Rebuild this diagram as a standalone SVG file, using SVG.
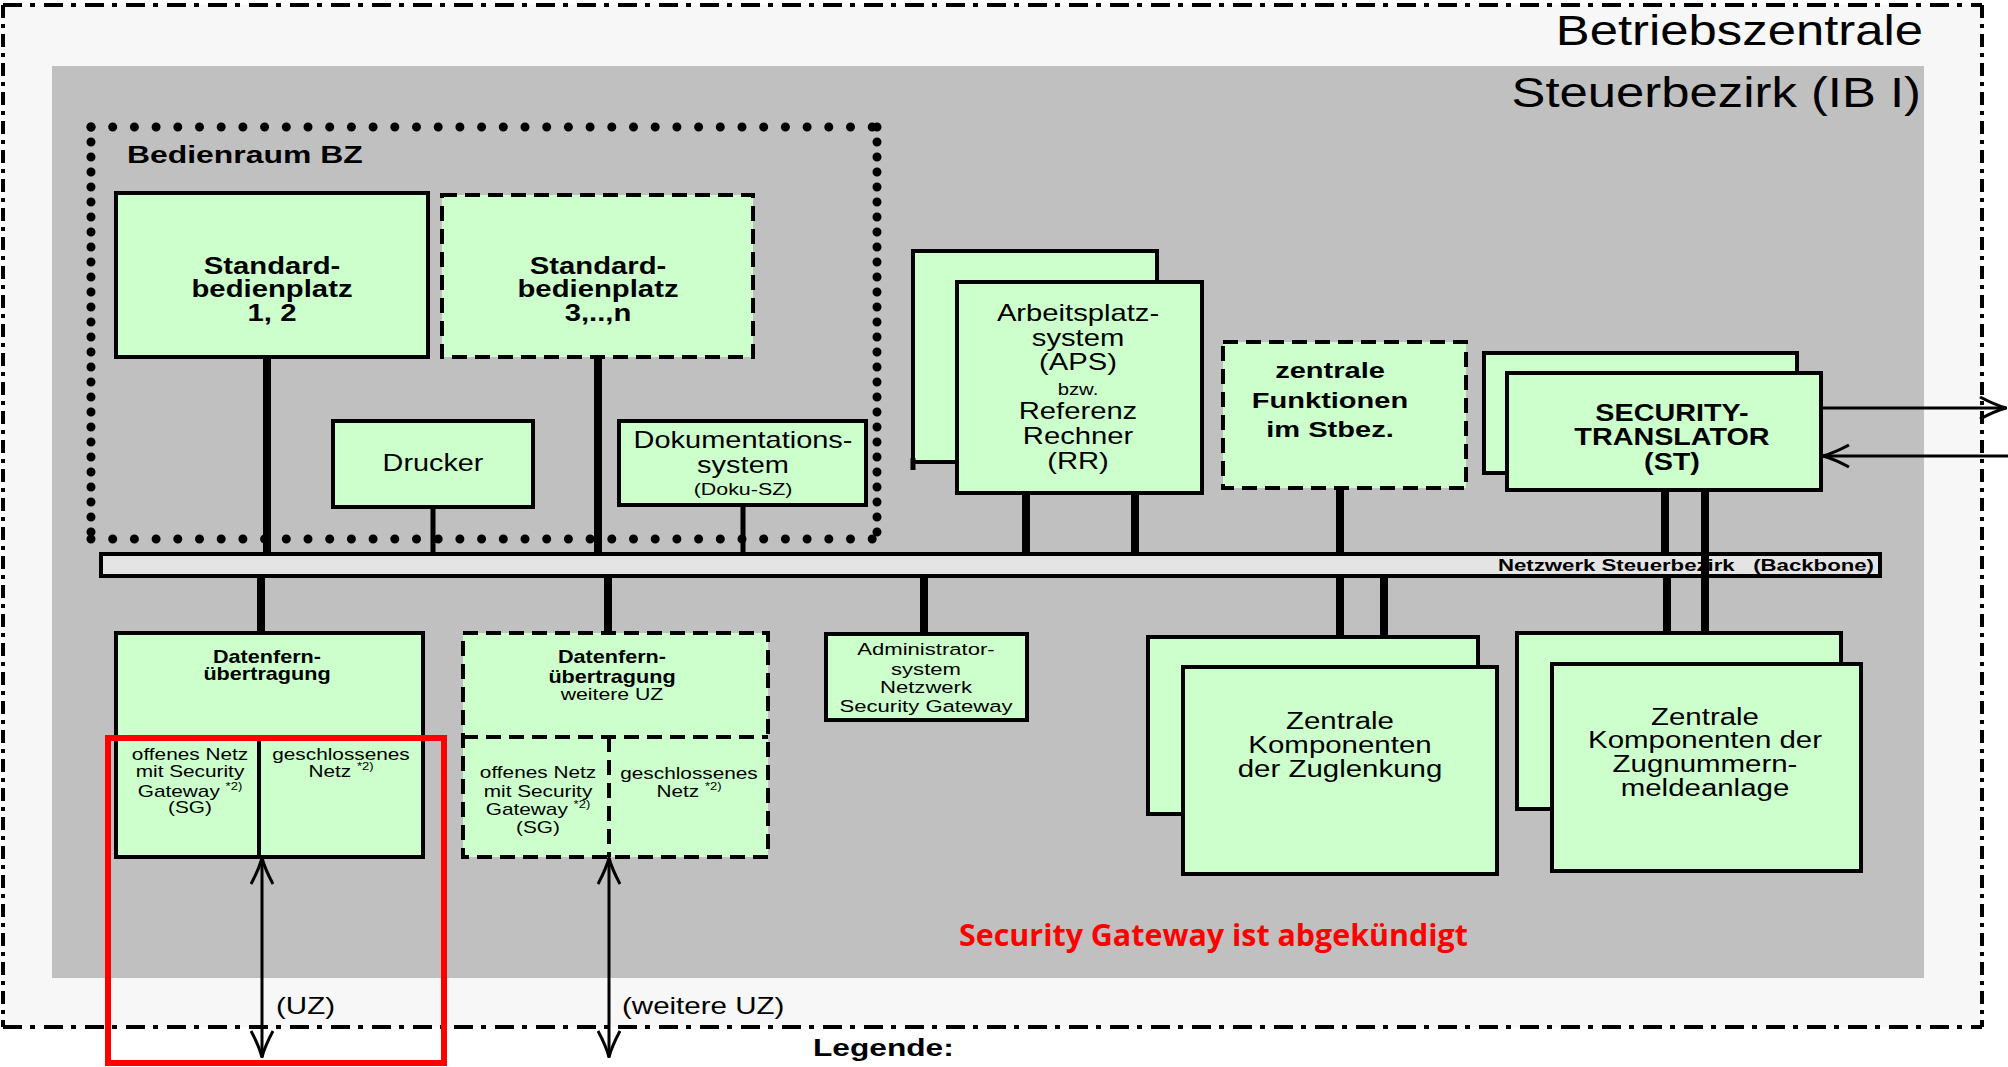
<svg xmlns="http://www.w3.org/2000/svg" width="2008" height="1067" viewBox="0 0 2008 1067">
  <defs>
    <style>
      .t { font-family: "Liberation Sans", Arial, sans-serif; fill: #000; }
      .b { font-weight: bold; }
      .box { fill: #ccffcc; stroke: #000; stroke-width: 4; }
      .dashed { stroke-dasharray: 15 8; }
      .wire { stroke: #000; stroke-width: 8; fill: none; }
      .thin { stroke-width: 5; }
      .arrow { stroke: #000; stroke-width: 3; fill: none; }
      .dots { fill: none; stroke: #000; stroke-width: 9; stroke-linecap: round; }
      .frame { fill: none; stroke: #000; stroke-width: 4; }
    </style>
    <marker id="vee" viewBox="0 0 28 24" refX="27" refY="12" markerWidth="28" markerHeight="24" markerUnits="userSpaceOnUse" orient="auto-start-reverse">
      <path d="M1,1 Q16,9 27,12 Q16,15 1,23" fill="none" stroke="#000" stroke-width="3"/>
    </marker>
  </defs>

  <rect width="2008" height="1067" fill="#fff"/>

  <!-- Betriebszentrale (outer area) -->
  <g id="betriebszentrale">
    <rect x="3" y="5" width="1979" height="1022" fill="#f7f7f7"/>
    <path class="frame" d="M3,5 H1982 M3,1027 H1982" stroke-dasharray="19 8 5 9"/>
    <path class="frame" d="M3,5 V1027 M1982,5 V1027" stroke-dasharray="13 6 4 6"/>
    <text class="t" font-size="42" text-anchor="end" transform="translate(1923 0) scale(1.21 1)" x="0" y="45">Betriebszentrale</text>
  </g>

  <!-- Steuerbezirk (inner area) -->
  <g id="steuerbezirk">
    <rect x="52" y="66" width="1872" height="912" fill="#c0c0c0"/>
    <text class="t" font-size="42" text-anchor="end" transform="translate(1921 0) scale(1.21 1)" x="0" y="107">Steuerbezirk (IB I)</text>
  </g>

  <!-- Bedienraum BZ -->
  <g id="bedienraum">
    <path class="dots" d="M91,127 H877 M91,539 H877" stroke-dasharray="0 21.7"/>
    <path class="dots" d="M91,127 V539 M877,127 V539" stroke-dasharray="0 15"/>
    <text class="t b" font-size="24" transform="translate(127 0) scale(1.33 1)" x="0" y="163">Bedienraum BZ</text>
  </g>

  <!-- connectors -->
  <g id="connectors">
    <line class="wire" x1="267" y1="357" x2="267" y2="555"/>
    <line class="wire" x1="598" y1="357" x2="598" y2="555"/>
    <line class="wire thin" x1="433" y1="507" x2="433" y2="555"/>
    <line class="wire thin" x1="743" y1="505" x2="743" y2="555"/>
    <line class="wire" x1="1026" y1="493" x2="1026" y2="555"/>
    <line class="wire" x1="1135" y1="493" x2="1135" y2="555"/>
    <line class="wire" x1="1340" y1="488" x2="1340" y2="555"/>
    <line class="wire" x1="1665" y1="490" x2="1665" y2="555"/>
    <line class="wire" x1="261" y1="576" x2="261" y2="634"/>
    <line class="wire" x1="608" y1="576" x2="608" y2="634"/>
    <line class="wire" x1="924" y1="576" x2="924" y2="635"/>
    <line class="wire" x1="1340" y1="576" x2="1340" y2="638"/>
    <line class="wire" x1="1384" y1="576" x2="1384" y2="668"/>
    <line class="wire" x1="1667" y1="576" x2="1667" y2="634"/>
    <line class="arrow" x1="262" y1="858" x2="262" y2="1057" marker-start="url(#vee)" marker-end="url(#vee)"/>
    <line class="arrow" x1="609" y1="858" x2="609" y2="1057" marker-start="url(#vee)" marker-end="url(#vee)"/>
    <line class="arrow" x1="1821" y1="408" x2="2006" y2="408" marker-end="url(#vee)"/>
    <line class="arrow" x1="2008" y1="456" x2="1823" y2="456" marker-end="url(#vee)"/>
  </g>

  <!-- Netzwerk Steuerbezirk (Backbone) -->
  <g id="backbone">
    <rect x="101" y="554" width="1779" height="22" fill="#e4e4e4" stroke="#000" stroke-width="4"/>
    <text class="t b" font-size="16" text-anchor="end" x="1874" y="571" textLength="376" lengthAdjust="spacingAndGlyphs" style="white-space:pre">Netzwerk Steuerbezirk   (Backbone)</text>
    <line class="wire" x1="1705" y1="490" x2="1705" y2="665"/>
  </g>

  <g id="std12">
    <rect class="box" x="116" y="193" width="312" height="164"/>
    <g class="t b" font-size="24" text-anchor="middle" transform="translate(272 0) scale(1.22 1)">
      <text x="0" y="274">Standard-</text>
      <text x="0" y="297">bedienplatz</text>
      <text x="0" y="321">1, 2</text>
    </g>
  </g>

  <g id="std3n">
    <rect class="box dashed" x="442" y="195" width="311" height="162"/>
    <g class="t b" font-size="24" text-anchor="middle" transform="translate(598 0) scale(1.22 1)">
      <text x="0" y="274">Standard-</text>
      <text x="0" y="297">bedienplatz</text>
      <text x="0" y="321">3,..,n</text>
    </g>
  </g>

  <g id="drucker">
    <rect class="box" x="333" y="421" width="200" height="86"/>
    <text class="t" font-size="24" text-anchor="middle" transform="translate(433 0) scale(1.2 1)" x="0" y="471">Drucker</text>
  </g>

  <g id="doku">
    <rect class="box" x="619" y="421" width="247" height="84"/>
    <g class="t" text-anchor="middle" transform="translate(743 0) scale(1.26 1)">
      <text x="0" y="448" font-size="23">Dokumentations-</text>
      <text x="0" y="473" font-size="23">system</text>
      <text x="0" y="495" font-size="17">(Doku-SZ)</text>
    </g>
  </g>

  <g id="aps">
    <rect class="box" x="913" y="251" width="244" height="211"/>
    <line x1="913" y1="458" x2="913" y2="470" stroke="#000" stroke-width="5"/>
    <rect class="box" x="957" y="282" width="245" height="211"/>
    <g class="t" font-size="23" text-anchor="middle" transform="translate(1078 0) scale(1.27 1)">
      <text x="0" y="321">Arbeitsplatz-</text>
      <text x="0" y="346">system</text>
      <text x="0" y="370">(APS)</text>
      <text x="0" y="395" font-size="16">bzw.</text>
      <text x="0" y="419">Referenz</text>
      <text x="0" y="444">Rechner</text>
      <text x="0" y="469">(RR)</text>
    </g>
  </g>

  <g id="zentrale-funktionen">
    <rect class="box dashed" x="1223" y="342" width="243" height="146"/>
    <g class="t b" font-size="22" text-anchor="middle" transform="translate(1330 0) scale(1.32 1)">
      <text x="0" y="378">zentrale</text>
      <text x="0" y="408">Funktionen</text>
      <text x="0" y="437">im Stbez.</text>
    </g>
  </g>

  <g id="security-translator">
    <rect class="box" x="1484" y="353" width="313" height="120"/>
    <rect class="box" x="1507" y="373" width="314" height="117"/>
    <g class="t b" font-size="23" text-anchor="middle" transform="translate(1672 0) scale(1.25 1)">
      <text x="0" y="421">SECURITY-</text>
      <text x="0" y="445">TRANSLATOR</text>
      <text x="0" y="470">(ST)</text>
    </g>
  </g>

  <g id="dfue">
    <rect class="box" x="116" y="633" width="307" height="224"/>
    <path d="M116,737 H423 M259,737 V857" stroke="#000" stroke-width="4" fill="none"/>
    <g class="t b" font-size="18" text-anchor="middle" transform="translate(267 0) scale(1.2 1)">
      <text x="0" y="663">Datenfern-</text>
      <text x="0" y="680">übertragung</text>
    </g>
    <g class="t" font-size="16" text-anchor="middle" transform="translate(190 0) scale(1.3 1)">
      <text x="0" y="760">offenes Netz</text>
      <text x="0" y="777">mit Security</text>
      <text x="0" y="797">Gateway <tspan font-size="10" dy="-7">*2)</tspan></text>
      <text x="0" y="813">(SG)</text>
    </g>
    <g class="t" font-size="16" text-anchor="middle" transform="translate(341 0) scale(1.3 1)">
      <text x="0" y="760">geschlossenes</text>
      <text x="0" y="777">Netz <tspan font-size="10" dy="-7">*2)</tspan></text>
    </g>
  </g>

  <g id="dfue-weitere">
    <rect class="box dashed" x="463" y="633" width="305" height="224"/>
    <path d="M463,737 H768 M609,737 V857" stroke="#000" stroke-width="4" fill="none" class="dashed"/>
    <g class="t b" font-size="18" text-anchor="middle" transform="translate(612 0) scale(1.2 1)">
      <text x="0" y="663">Datenfern-</text>
      <text x="0" y="683">übertragung</text>
    </g>
    <text class="t" font-size="17" text-anchor="middle" transform="translate(612 0) scale(1.25 1)" x="0" y="700">weitere UZ</text>
    <g class="t" font-size="16" text-anchor="middle" transform="translate(538 0) scale(1.3 1)">
      <text x="0" y="778">offenes Netz</text>
      <text x="0" y="797">mit Security</text>
      <text x="0" y="815">Gateway <tspan font-size="10" dy="-7">*2)</tspan></text>
      <text x="0" y="833">(SG)</text>
    </g>
    <g class="t" font-size="16" text-anchor="middle" transform="translate(689 0) scale(1.3 1)">
      <text x="0" y="779">geschlossenes</text>
      <text x="0" y="797">Netz <tspan font-size="10" dy="-7">*2)</tspan></text>
    </g>
  </g>

  <g id="admin">
    <rect class="box" x="826" y="634" width="201" height="86"/>
    <g class="t" font-size="17" text-anchor="middle" transform="translate(926 0) scale(1.3 1)">
      <text x="0" y="655">Administrator-</text>
      <text x="0" y="675">system</text>
      <text x="0" y="693">Netzwerk</text>
      <text x="0" y="712">Security Gateway</text>
    </g>
  </g>

  <g id="zuglenkung">
    <rect class="box" x="1148" y="637" width="330" height="177"/>
    <rect class="box" x="1183" y="667" width="314" height="207"/>
    <g class="t" font-size="23" text-anchor="middle" transform="translate(1340 0) scale(1.28 1)">
      <text x="0" y="729">Zentrale</text>
      <text x="0" y="753">Komponenten</text>
      <text x="0" y="777">der Zuglenkung</text>
    </g>
  </g>

  <g id="zugnummernmeldeanlage">
    <rect class="box" x="1517" y="633" width="324" height="176"/>
    <rect class="box" x="1552" y="664" width="309" height="207"/>
    <g class="t" font-size="23" text-anchor="middle" transform="translate(1705 0) scale(1.28 1)">
      <text x="0" y="725">Zentrale</text>
      <text x="0" y="748">Komponenten der</text>
      <text x="0" y="772">Zugnummern-</text>
      <text x="0" y="796">meldeanlage</text>
    </g>
  </g>

  <!-- link labels -->
  <g id="labels">
    <text class="t" font-size="24" transform="translate(276 0) scale(1.23 1)" x="0" y="1014">(UZ)</text>
    <text class="t" font-size="24" transform="translate(622 0) scale(1.23 1)" x="0" y="1014">(weitere UZ)</text>
    <text class="t b" font-size="24" transform="translate(813 0) scale(1.32 1)" x="0" y="1056">Legende:</text>
  </g>

  <!-- notice -->
  <g id="notice">
    <rect x="108" y="738" width="336" height="325" fill="none" stroke="#ff0000" stroke-width="6"/>
    <text x="959" y="946" font-family="'Open Sans', 'Noto Sans', sans-serif" font-weight="bold" font-size="30" fill="#ff0000" textLength="509" lengthAdjust="spacingAndGlyphs">Security Gateway ist abgekündigt</text>
  </g>
</svg>
